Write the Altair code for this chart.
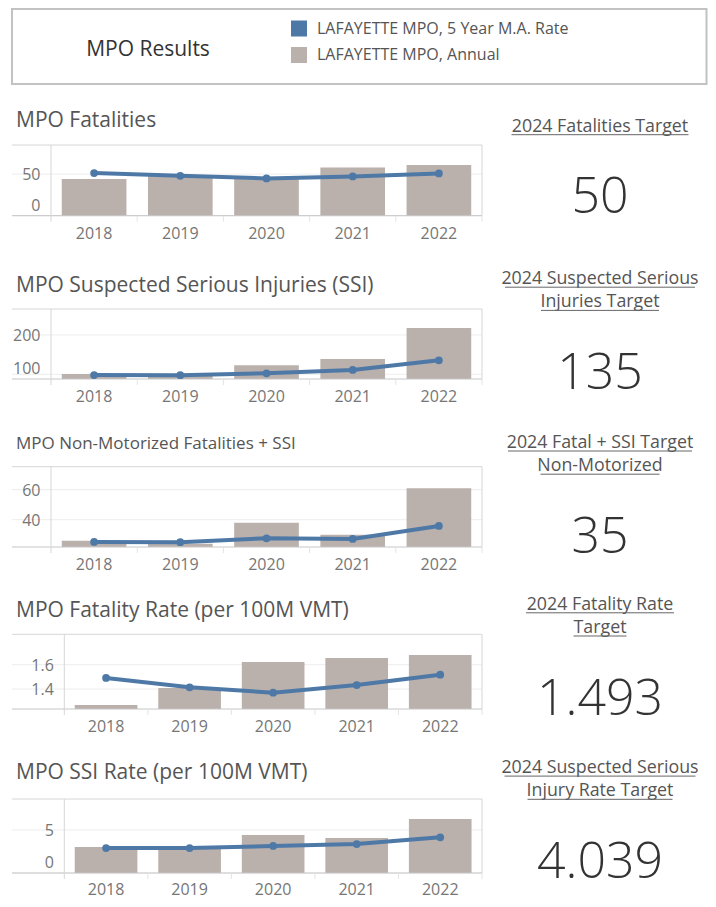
import altair as alt
import pandas as pd

# ---------------- data ----------------
YEARS = ["2018", "2019", "2020", "2021", "2022"]

FATAL_ANNUAL = [44, 48, 45, 58, 61]
FATAL_MA = [51.2, 48.0, 44.8, 47.2, 50.8]
SSI_ANNUAL = [101, 96, 123, 139, 218]
SSI_MA = [98.0, 97.6, 102.6, 111.0, 135.4]
NM_ANNUAL = [26, 24, 38, 30, 61]
NM_MA = [25.2, 25.0, 27.6, 27.2, 35.8]
FRATE_ANNUAL = [1.269, 1.408, 1.622, 1.655, 1.680]
FRATE_MA = [1.491, 1.414, 1.370, 1.433, 1.518]
SRATE_ANNUAL = [3.02, 2.85, 4.42, 4.07, 6.28]
SRATE_MA = [2.90, 2.90, 3.14, 3.37, 4.15]

ANNUAL = [FATAL_ANNUAL, SSI_ANNUAL, NM_ANNUAL, FRATE_ANNUAL, SRATE_ANNUAL]
MA = [FATAL_MA, SSI_MA, NM_MA, FRATE_MA, SRATE_MA]

PANEL_TITLES = [
    "MPO Fatalities",
    "MPO Suspected Serious Injuries (SSI)",
    "MPO Non-Motorized Fatalities + SSI",
    "MPO Fatality Rate (per 100M VMT)",
    "MPO SSI Rate (per 100M VMT)",
]
TARGET_TITLES = [
    ["2024 Fatalities Target"],
    ["2024 Suspected Serious", "Injuries Target"],
    ["2024 Fatal + SSI Target", "Non-Motorized"],
    ["2024 Fatality Rate", "Target"],
    ["2024 Suspected Serious", "Injury Rate Target"],
]
TARGETS = ["50", "135", "35", "1.493", "4.039"]

Y_DOMAINS = [[0, 85], [88, 266], [21.8, 75.3], [1.236, 1.85], [0, 8.6]]
Y_TICKS = [[0, 50], [100, 200], [40, 60], [1.4, 1.6], [0, 5]]
Y_TICK_LABELS = [["0", "50"], ["100", "200"], ["40", "60"], ["1.4", "1.6"], ["0", "5"]]
Y_TICK_PINNED = [[True, False], [True, False], [False, False], [False, False], [True, False]]

LEGEND_LABELS = ["LAFAYETTE MPO, 5 Year M.A. Rate", "LAFAYETTE MPO, Annual"]
HEADER_TITLE = "MPO Results"

# ---------------- styling / layout ----------------
FONT = "Open Sans"
BLUE = "#4e79a7"
GRAY = "#bab0ac"
GRID = "#ededed"
FRAME = "#d6d6d6"
AXIS = "#c6c6c6"
TITLE_C = "#555555"
LABEL_C = "#767676"
NUM_C = "#333333"

X_LEFT = 4
X1 = 474
CX = 592

GEOM = [
    dict(x0=43, top=137, bottom=207.7, title_y=118.7, title_size=21, year_y=230.5, tt_y=[123.7], num_y=205.3),
    dict(x0=43, top=301, bottom=371, title_y=283.7, title_size=21, year_y=393.7, tt_y=[276.2, 299.4], num_y=381),
    dict(x0=43, top=458.7, bottom=539, title_y=441.3, title_size=17, year_y=562, tt_y=[440, 463.2], num_y=545.3),
    dict(x0=56.3, top=626.3, bottom=701, title_y=608.7, title_size=21, year_y=724, tt_y=[601.8, 625], num_y=707),
    dict(x0=56.3, top=791, bottom=865, title_y=771.3, title_size=21, year_y=886.5, tt_y=[765.1, 788.3], num_y=870.3),
]
UNDERLINE_W = [[177], [190, 118], [184, 119], [148, 53], [191, 145]]

ONE = pd.DataFrame({"k": [0]})


def rule(x, x2, y, y2, color, w=1.0):
    return alt.Chart(ONE).mark_rule(color=color, strokeWidth=w).encode(
        x=alt.value(x), x2=alt.value(x2), y=alt.value(y), y2=alt.value(y2)
    )


def label(txt, x, y, size, color, align="left", weight=400):
    return alt.Chart(ONE).mark_text(
        font=FONT, fontSize=size, color=color, align=align, baseline="alphabetic", fontWeight=weight
    ).encode(x=alt.value(x), y=alt.value(y), text=alt.value(txt))


layers = []

# header box
layers.append(
    alt.Chart(ONE).mark_rect(fill="white", stroke="#c2c2c2", strokeWidth=2).encode(
        x=alt.value(X_LEFT), x2=alt.value(698.5), y=alt.value(1), y2=alt.value(76)
    )
)
layers.append(label(HEADER_TITLE, 140, 47.7, 21, NUM_C, align="center"))

for i in range(5):
    g = GEOM[i]
    lo, hi = Y_DOMAINS[i]
    df = pd.DataFrame({
        "year": YEARS,
        "annual": ANNUAL[i],
        "ma": MA[i],
        "base": lo,
        "series": LEGEND_LABELS[1],
    })
    tdf = pd.DataFrame({
        "tick": Y_TICKS[i],
        "label": Y_TICK_LABELS[i],
        "pinned": Y_TICK_PINNED[i],
        "lo": lo,
    })
    xs = alt.Scale(type="band", domain=YEARS, range=[g["x0"], X1], paddingInner=0.25, paddingOuter=0.125)
    ys = alt.Scale(domain=[lo, hi], range=[g["bottom"], g["top"]], zero=False, nice=False)
    X = alt.X("year:N", scale=xs, axis=None)

    # gridlines
    layers.append(
        alt.Chart(tdf).mark_rule(color=GRID, strokeWidth=1).encode(
            y=alt.Y("tick:Q", scale=ys, axis=None), x=alt.value(X_LEFT), x2=alt.value(X1)
        )
    )
    # frame
    layers.append(rule(X_LEFT, X1, g["top"], g["top"], FRAME))
    layers.append(rule(X1, X1, g["top"], g["bottom"], FRAME))

    # bars
    if i == 0:
        color_enc = alt.Color(
            "series:N",
            scale=alt.Scale(domain=LEGEND_LABELS, range=[BLUE, GRAY]),
            legend=alt.Legend(
                orient="none", legendX=283, legendY=12.5, title=None,
                symbolType="square", symbolSize=256, symbolStrokeWidth=0, symbolOpacity=1,
                labelFont=FONT, labelFontSize=16, labelColor=TITLE_C, labelOffset=10,
                labelLimit=400, rowPadding=10.5, padding=0,
            ),
        )
    else:
        color_enc = alt.value(GRAY)
    layers.append(
        alt.Chart(df).mark_bar().encode(
            x=X, y=alt.Y("annual:Q", scale=ys, axis=None), y2=alt.Y2("base"), color=color_enc
        )
    )
    # axis lines
    layers.append(rule(X_LEFT, X1, g["bottom"], g["bottom"], AXIS))
    layers.append(rule(g["x0"], g["x0"], g["top"], g["bottom"] + 6, FRAME))
    bdf = pd.DataFrame({"b": [1, 2, 3, 4, 5]})
    layers.append(
        alt.Chart(bdf).mark_rule(color="#e4e4e4", strokeWidth=1).encode(
            x=alt.X("b:Q", scale=alt.Scale(domain=[0, 5], range=[g["x0"], X1]), axis=None),
            y=alt.value(g["bottom"]), y2=alt.value(g["bottom"] + 6),
        )
    )

    # 5-year moving average line + points
    layers.append(
        alt.Chart(df).mark_line(color=BLUE, strokeWidth=4).encode(
            x=X, y=alt.Y("ma:Q", scale=ys, axis=None)
        )
    )
    layers.append(
        alt.Chart(df).mark_circle(color=BLUE, size=60, opacity=1).encode(
            x=X, y=alt.Y("ma:Q", scale=ys, axis=None)
        )
    )

    # year labels
    layers.append(
        alt.Chart(df).mark_text(font=FONT, fontSize=16, color=LABEL_C, baseline="alphabetic", align="center").encode(
            x=X, y=alt.value(g["year_y"]), text="year:N"
        )
    )
    # y tick labels
    layers.append(
        alt.Chart(tdf).transform_filter("!datum.pinned").mark_text(
            font=FONT, fontSize=16, color=LABEL_C, baseline="middle", align="right", dy=1
        ).encode(y=alt.Y("tick:Q", scale=ys, axis=None), x=alt.value(g["x0"] - 10.5), text="label:N")
    )
    layers.append(
        alt.Chart(tdf).transform_filter("datum.pinned").mark_text(
            font=FONT, fontSize=16, color=LABEL_C, baseline="middle", align="right", dy=-10
        ).encode(y=alt.Y("lo:Q", scale=ys, axis=None), x=alt.value(g["x0"] - 10.5), text="label:N")
    )

    # panel title
    layers.append(label(PANEL_TITLES[i], 8, g["title_y"], g["title_size"], TITLE_C))

    # target side
    for line_txt, ty, w in zip(TARGET_TITLES[i], g["tt_y"], UNDERLINE_W[i]):
        layers.append(label(line_txt, CX, ty, 17.8, TITLE_C, align="center"))
        layers.append(rule(CX - w / 2, CX + w / 2, ty + 3, ty + 3, "#666666", 1))
    layers.append(label(TARGETS[i], CX, g["num_y"], 50, NUM_C, align="center", weight=300))

chart = (
    alt.layer(*layers)
    .resolve_scale(x="independent", y="independent")
    .properties(width=700, height=891, padding=0, autosize=alt.AutoSizeParams(type="none"))
    .configure_view(stroke=None)
)

chart.save("out.html", embed_options={"renderer": "svg", "actions": False})
